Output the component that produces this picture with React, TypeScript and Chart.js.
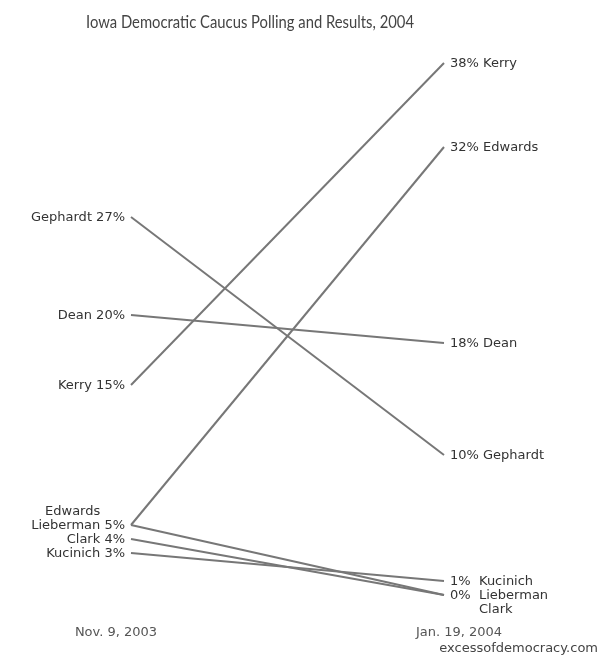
import React, { useEffect, useRef } from "react";
import { Chart, registerables } from "chart.js";

Chart.register(...registerables);

const candidates = ["Kerry", "Edwards", "Dean", "Gephardt", "Kucinich", "Lieberman", "Clark"];
const nov2003 = [15, 5, 20, 27, 3, 5, 4];
const jan2004 = [38, 32, 18, 10, 1, 0, 0];
const dateLabels = ["Nov. 9, 2003", "Jan. 19, 2004"];
const titleText = "Iowa Democratic Caucus Polling and Results, 2004";
const sourceText = "excessofdemocracy.com";

const LINE_COLOR = "#777777";
const TEXT_COLOR = "#333333";
const FONT = "13px 'DejaVu Sans', Verdana, sans-serif";

function groupByValue(values: number[]): Map<number, number[]> {
  const m = new Map<number, number[]>();
  values.forEach((v, i) => {
    if (!m.has(v)) m.set(v, []);
    m.get(v)!.push(i);
  });
  return m;
}

const labelPlugin = {
  id: "slopeLabels",
  afterDatasetsDraw(chart: any) {
    const { ctx, scales } = chart;
    const xs = scales.x;
    const ys = scales.y;
    const xL = xs.getPixelForValue(0);
    const xR = xs.getPixelForValue(1);
    const lineH = 14;
    const dy = 1;
    ctx.save();
    ctx.font = FONT;
    ctx.fillStyle = TEXT_COLOR;
    ctx.textBaseline = "middle";

    // left labels: stacked upward, last one at value
    const leftGroups = groupByValue(nov2003);
    leftGroups.forEach((idxs, v) => {
      const y = ys.getPixelForValue(v) + dy;
      const pct = " " + v + "%";
      const pctW = ctx.measureText(pct).width;
      const xEnd = xL - 6;
      idxs.forEach((ci, k) => {
        const yy = y - (idxs.length - 1 - k) * lineH;
        ctx.textAlign = "right";
        if (k === idxs.length - 1) {
          ctx.fillText(candidates[ci] + pct, xEnd, yy);
        } else {
          ctx.fillText(candidates[ci], xEnd - pctW, yy);
        }
      });
    });

    // right labels: stacked downward, first at value
    const rightGroups = groupByValue(jan2004);
    const alignedNameX = xR + 35;
    rightGroups.forEach((idxs, v) => {
      const y = ys.getPixelForValue(v) + dy;
      ctx.textAlign = "left";
      const pct = v + "%";
      ctx.fillText(pct, xR + 6, y);
      const bottomGroup = v < 5;
      const nameX = bottomGroup ? alignedNameX : xR + 6 + ctx.measureText(pct + " ").width;
      idxs.forEach((ci, k) => {
        ctx.fillText(candidates[ci], nameX, y + k * lineH);
      });
    });
    ctx.restore();
  },
};

const textPlugin = {
  id: "extraText",
  afterDraw(chart: any) {
    const { ctx, scales } = chart;
    const xs = scales.x;
    ctx.save();
    ctx.fillStyle = "#444444";
    ctx.font = "18px Lato, 'Open Sans', sans-serif";
    ctx.textAlign = "center";
    ctx.textBaseline = "middle";
    ctx.fillText(titleText, 250, 22, 328);

    ctx.font = FONT;
    ctx.fillStyle = "#555555";
    ctx.fillText(dateLabels[0], xs.getPixelForValue(0) - 15, 633);
    ctx.fillText(dateLabels[1], xs.getPixelForValue(1) + 15, 633);
    ctx.textAlign = "right";
    ctx.fillStyle = "#444444";
    ctx.fillText(sourceText, 598, 649);
    ctx.restore();
  },
};

export default function App() {
  const ref = useRef<HTMLCanvasElement | null>(null);
  useEffect(() => {
    document.body.style.margin = "0";
    if (!ref.current) return;
    const chart = new Chart(ref.current, {
      type: "line",
      data: {
        datasets: candidates.map((c, i) => ({
          label: c,
          data: [
            { x: 0, y: nov2003[i] },
            { x: 1, y: jan2004[i] },
          ],
          borderColor: LINE_COLOR,
          borderWidth: 2,
          pointRadius: 0,
          tension: 0,
          clip: false as any,
        })),
      },
      options: {
        animation: false,
        responsive: true,
        maintainAspectRatio: false,
        layout: { padding: { left: 131, right: 158, top: 63, bottom: 61 } },
        scales: {
          x: { type: "linear", min: 0, max: 1, display: false },
          y: { type: "linear", min: 0, max: 38, display: false },
        },
        plugins: {
          legend: { display: false },
          tooltip: { enabled: false },
          title: { display: false },
        },
      },
      plugins: [labelPlugin, textPlugin],
    });
    return () => chart.destroy();
  }, []);
  return (
    <div style={{ position: "absolute", left: 0, top: 0, width: 602, height: 656 }}>
      <canvas ref={ref} />
    </div>
  );
}
